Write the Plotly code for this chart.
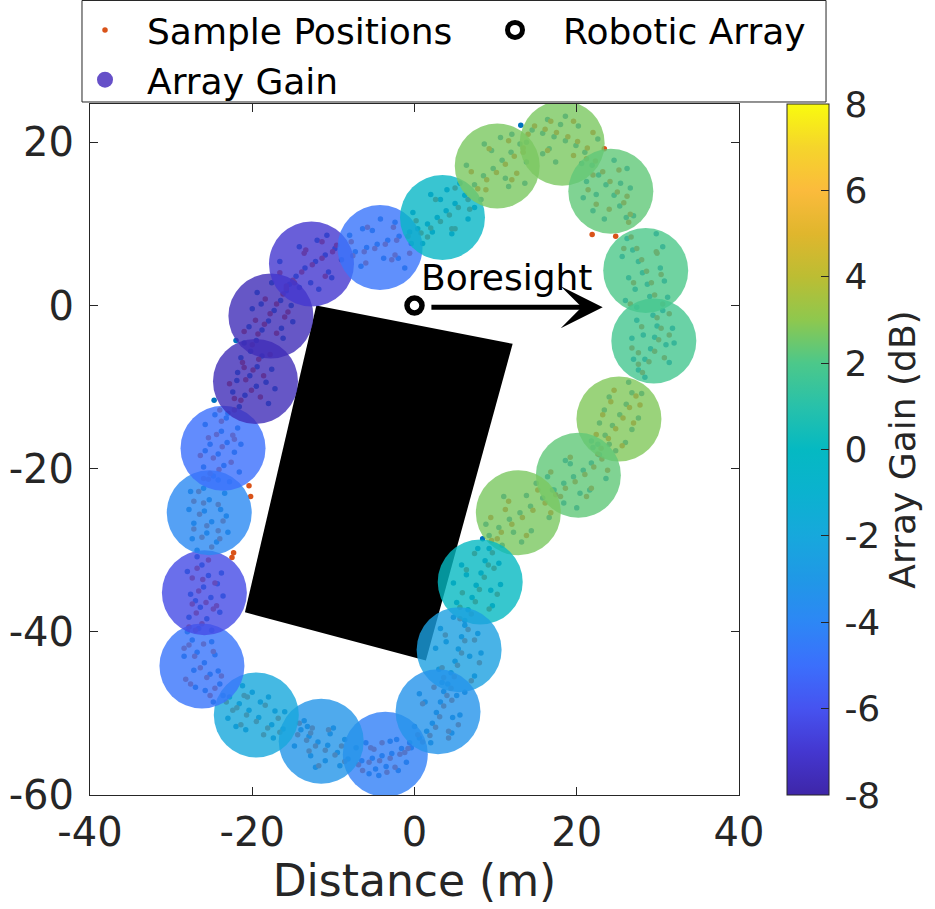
import plotly.graph_objects as go

# Circle centres (m) and the array gain measured at each stop (dB)
gain_x = [-3.6, -11.5, -19.5, -26.2, -25.9, -25.3, -23.6, -19.6, -17.7, -12.7, -4.25, 3.45,
          10.2, 18.2, 24.2, 28.5, 29.5, 25.2, 20.2, 12.8, 8.1, 5.5, 2.9]
gain_y = [-55.0, -53.4, -50.2, -44.2, -35.2, -25.4, -17.5, -9.3, -1.3, 5.1, 7.1, 10.8,
          17.1, 19.9, 14.0, 4.3, -4.35, -13.9, -20.8, -25.4, -33.9, -42.2, -49.8]
gain_db = [-4.3, -3.2, -2.0, -4.8, -6.3, -3.8, -5.0, -7.6, -7.6, -7.0, -4.8, -0.3,
           2.7, 2.7, 2.3, 2.0, 1.8, 2.8, 2.3, 2.7, 0.0, -2.5, -3.3]

# Sample positions, first pass (blue)
blue_x = [-6.5, -5.2, -4.0, -2.8, -1.6, -0.6, -4.4, -3.5,
          -6.0, -4.8, -2.2, -1.0, -5.6, -3.0, -7.2, -2.0,
          -14.0, -13.0, -11.9, -10.7, -9.5, -8.2, -12.2, -10.4,
          -13.6, -12.8, -10.0, -9.2, -14.8, -11.0, -8.6, -13.2,
          -22.8, -21.6, -20.4, -19.2, -17.6, -16.2, -19.0, -17.2,
          -21.2, -20.8, -18.0, -17.4, -23.0, -16.0, -20.0, -22.0,
          -27.4, -26.8, -25.9, -25.2, -24.0, -27.2, -24.6, -25.8,
          -28.4, -24.2, -27.0, -25.0, -28.0, -23.6, -26.6, -24.8,
          -26.2, -25.4, -26.0, -25.1, -26.4, -25.6, -24.3, -27.0,
          -28.0, -23.8, -27.8, -24.0, -27.6, -23.6, -26.8, -25.0,
          -26.0, -25.3, -25.9, -25.0, -25.6, -24.4, -27.2, -23.9,
          -27.6, -23.4, -27.4, -23.0, -27.8, -23.2, -26.8, -24.2,
          -23.2, -23.8, -23.1, -24.2, -23.5, -24.8, -22.2, -25.2,
          -25.8, -21.8, -26.0, -21.6, -25.8, -21.4, -24.6, -22.8,
          -18.8, -19.4, -20.3, -19.5, -20.9, -21.6, -18.3, -21.9,
          -21.4, -17.6, -22.4, -18.0, -21.8, -17.2, -20.2, -23.0,
          -15.8, -16.5, -17.3, -18.0, -18.8, -19.5, -16.4, -18.9,
          -19.4, -15.2, -20.4, -16.2, -20.0, -15.0, -17.6, -21.0,
          -9.8, -11.0, -12.2, -13.5, -14.6, -15.4, -12.8, -10.6,
          -10.8, -14.2, -10.2, -14.2, -12.0, -16.6, -9.0, -11.8,
          -0.6, -1.9, -3.3, -4.6, -5.9, -7.3, -3.8, -5.2,
          -2.4, -6.4, -2.0, -6.6, -0.4, -8.0, -4.2, -1.2,
          6.2, 5.0, 3.9, 2.8, 1.6, 0.4, 3.2, 2.2,
          2.0, 5.6, 4.6, 1.0, 6.6, -0.2, 4.0, 7.4,
          13.0, 11.9, 10.8, 9.7, 8.5, 7.4, 9.5, 11.2,
          8.6, 12.0, 11.6, 8.2, 13.8, 6.4, 10.6, 13.6,
          21.0, 19.9, 18.6, 17.2, 15.8, 14.5, 18.0, 16.6,
          16.4, 20.2, 15.8, 20.6, 22.6, 13.8, 18.6, 17.4,
          26.1, 25.3, 24.6, 23.6, 22.7, 21.9, 22.4, 25.4,
          26.6, 27.0, 22.0, 21.2, 24.6, 23.4, 26.2, 20.8,
          29.0, 28.7, 28.1, 27.6, 26.9, 26.2, 30.3, 27.2,
          30.8, 30.6, 26.4, 26.0, 31.2, 25.6, 29.8, 27.4,
          27.6, 28.4, 29.1, 29.6, 29.9, 29.4, 31.0, 28.2,
          31.8, 31.4, 27.4, 27.0, 32.0, 26.8, 30.6, 28.4,
          22.6, 23.5, 24.4, 25.3, 26.1, 26.8, 26.8, 23.4,
          27.6, 26.0, 22.8, 24.0, 28.0, 21.8, 26.4, 24.8,
          17.2, 18.4, 19.6, 20.8, 21.8, 22.8, 20.4, 19.2,
          21.6, 18.4, 18.6, 22.0, 23.6, 16.4, 20.0, 24.0,
          9.2, 10.4, 11.7, 13.0, 14.3, 15.8, 12.2, 13.8,
          14.4, 10.8, 11.0, 15.0, 16.6, 8.8, 13.2, 17.0,
          9.2, 8.7, 8.2, 7.6, 7.1, 6.6, 9.4, 6.4,
          10.4, 9.6, 5.8, 5.2, 10.6, 6.2, 7.8, 4.8,
          6.2, 5.8, 5.4, 5.0, 4.5, 4.1, 6.8, 3.9,
          7.8, 7.4, 3.2, 3.0, 8.2, 2.6, 6.2, 4.8,
          3.6, 3.2, 2.7, 2.2, 1.5, 0.6, 4.7, 1.3,
          5.2, 4.6, 0.6, 0.0, 5.6, -0.4, 3.4, 2.0,
          13.1, 8.4, -24.7, -22.0]
blue_y = [-55.8, -55.5, -55.2, -54.9, -54.3, -53.6, -57.6, -56.5,
          -53.6, -56.8, -53.2, -56.0, -57.4, -53.4, -54.2, -57.0,
          -52.0, -52.8, -53.5, -53.9, -54.8, -55.6, -56.6, -52.5,
          -50.9, -55.2, -51.8, -56.4, -54.0, -55.8, -53.2, -51.6,
          -48.0, -48.8, -49.6, -50.5, -51.4, -51.9, -48.6, -49.7,
          -46.6, -52.0, -48.0, -53.0, -50.6, -49.8, -47.4, -51.6,
          -41.0, -42.5, -43.8, -45.2, -46.4, -44.7, -42.8, -47.2,
          -43.0, -44.8, -46.8, -41.2, -40.0, -47.8, -39.6, -48.6,
          -31.8, -33.1, -34.5, -35.8, -37.0, -38.4, -34.1, -36.2,
          -32.6, -32.8, -38.2, -37.6, -35.4, -35.6, -30.8, -39.8,
          -22.4, -23.8, -25.2, -26.5, -27.9, -29.0, -26.7, -25.0,
          -22.8, -23.0, -28.6, -27.8, -25.0, -25.8, -30.0, -21.4,
          -13.8, -15.4, -16.8, -18.2, -19.6, -20.9, -18.0, -17.0,
          -14.6, -15.0, -19.8, -20.4, -17.8, -17.0, -13.4, -21.6,
          -6.2, -7.5, -8.6, -9.9, -11.0, -12.4, -9.4, -9.2,
          -6.4, -7.8, -10.6, -12.0, -8.2, -10.2, -5.6, -13.2,
          1.8, 0.6, -0.6, -1.9, -3.0, -4.3, -2.8, 0.2,
          1.6, 0.0, -2.6, -4.0, -0.4, -2.0, 2.8, -4.6,
          7.0, 6.2, 5.4, 4.6, 3.6, 2.6, 2.8, 4.1,
          8.6, 7.2, 3.4, 2.2, 8.0, 5.4, 5.6, 2.0,
          9.0, 8.5, 8.0, 7.5, 7.1, 6.6, 5.8, 9.2,
          10.2, 9.4, 5.8, 4.8, 7.6, 8.6, 10.6, 4.6,
          13.5, 12.5, 11.6, 10.8, 10.0, 9.4, 13.0, 9.0,
          13.6, 15.0, 8.8, 7.6, 10.6, 11.4, 14.2, 12.0,
          19.8, 18.8, 17.8, 16.8, 15.9, 14.8, 19.0, 15.6,
          19.8, 21.0, 14.6, 13.0, 17.6, 17.2, 20.6, 15.0,
          18.8, 19.6, 20.2, 20.7, 21.1, 21.5, 22.2, 19.2,
          22.8, 22.0, 18.6, 17.4, 20.4, 20.0, 23.2, 17.6,
          10.8, 12.2, 13.5, 14.8, 16.0, 17.2, 13.6, 15.0,
          14.4, 11.0, 11.6, 15.2, 17.8, 10.6, 16.8, 13.2,
          1.1, 2.6, 4.0, 5.4, 6.8, 8.2, 4.6, 2.0,
          3.0, 7.2, 3.4, 0.6, 1.0, 6.0, 8.8, -0.2,
          -7.9, -6.6, -5.3, -3.9, -2.5, -1.2, -4.8, -3.6,
          -2.8, -7.0, -1.8, -6.6, -4.6, -4.0, -0.6, -8.8,
          -17.0, -15.9, -14.7, -13.4, -12.1, -10.7, -15.2, -12.8,
          -13.8, -16.8, -14.4, -11.2, -10.8, -16.6, -9.4, -17.8,
          -22.6, -21.8, -21.0, -20.2, -19.3, -18.3, -23.0, -19.4,
          -22.6, -24.2, -19.0, -17.4, -21.2, -21.0, -24.8, -17.0,
          -28.2, -27.2, -26.2, -25.4, -24.6, -23.6, -27.8, -23.3,
          -27.6, -29.4, -23.4, -21.8, -26.0, -26.8, -29.0, -22.6,
          -29.8, -31.3, -32.8, -34.3, -35.8, -37.3, -34.9, -33.0,
          -31.6, -36.8, -31.8, -36.4, -34.2, -38.6, -29.8, -34.0,
          -39.2, -40.6, -42.1, -43.6, -45.0, -46.4, -43.0, -41.2,
          -40.2, -45.4, -39.6, -44.6, -42.6, -42.0, -47.4, -38.2,
          -47.3, -48.6, -49.9, -51.2, -52.2, -53.0, -50.5, -48.6,
          -47.8, -52.4, -47.6, -51.6, -50.2, -54.2, -46.2, -53.6,
          22.1, -28.6, -11.6, -4.3]

# Sample positions, second pass (orange)
orange_x = [-6.9, -5.6, -4.3, -3.0, -1.8, -0.8, -5.0,
            -5.4, -2.4, -6.4, -1.2, -4.0, -3.4,
            -14.4, -13.3, -12.2, -11.0, -9.8, -8.6, -12.6,
            -13.0, -10.6, -9.0, -14.2, -11.8, -12.8,
            -23.2, -21.9, -20.7, -19.5, -18.1, -16.6, -21.0,
            -22.4, -18.6, -20.6, -16.8, -21.4, -18.4,
            -27.8, -27.1, -26.4, -25.6, -24.6, -26.0, -28.2,
            -27.6, -24.8, -28.4, -25.2, -27.0, -23.8,
            -26.8, -26.1, -26.6, -25.7, -26.9, -26.2, -24.8,
            -27.4, -24.6, -27.4, -24.4, -25.4, -27.8,
            -26.6, -26.0, -26.5, -25.6, -26.2, -25.0, -24.2,
            -27.2, -24.2, -27.2, -24.0, -26.0, -23.6,
            -23.8, -24.4, -23.7, -24.8, -24.1, -25.4, -22.4,
            -25.4, -22.2, -25.2, -22.6, -24.0, -26.4,
            -19.2, -19.9, -20.8, -20.1, -21.4, -22.2, -21.2,
            -21.0, -18.6, -22.2, -19.0, -17.8, -22.8,
            -16.2, -17.0, -17.8, -18.5, -19.3, -20.0, -15.6,
            -18.4, -16.0, -19.6, -17.0, -15.8, -21.0,
            -10.1, -11.4, -12.6, -13.9, -15.0, -15.8, -13.6,
            -11.4, -13.4, -11.0, -14.8, -9.6, -16.6,
            -0.8, -2.2, -3.6, -4.9, -6.2, -7.6, -2.4,
            -2.6, -5.8, -2.8, -6.0, -0.6, -7.8,
            6.6, 5.4, 4.3, 3.2, 2.0, 0.8, 4.6,
            2.6, 5.0, 5.0, 1.6, 6.8, 0.2,
            13.4, 12.3, 11.2, 10.1, 8.9, 7.8, 12.6,
            9.2, 11.6, 12.0, 8.8, 13.4, 7.0,
            21.3, 20.1, 18.9, 17.5, 16.1, 14.8, 19.6,
            16.8, 19.6, 16.4, 21.2, 22.0, 14.0,
            26.6, 25.8, 25.0, 24.1, 23.2, 22.3, 24.0,
            26.2, 26.4, 22.4, 22.0, 25.2, 21.4,
            29.6, 29.2, 28.6, 28.0, 27.4, 26.7, 29.9,
            30.4, 29.8, 27.0, 26.6, 30.6, 25.8,
            28.1, 28.9, 29.6, 30.1, 30.4, 29.9, 27.6,
            31.4, 30.8, 28.0, 27.6, 31.4, 26.8,
            23.0, 23.9, 24.8, 25.7, 26.5, 27.3, 24.2,
            27.0, 25.6, 23.2, 24.6, 27.8, 22.4,
            17.4, 18.6, 19.8, 21.0, 22.1, 23.1, 21.8,
            21.2, 18.0, 19.2, 22.6, 23.8, 16.8,
            9.5, 10.7, 12.0, 13.3, 14.6, 16.1, 11.2,
            13.8, 10.2, 11.6, 15.2, 16.8, 9.4,
            9.6, 9.1, 8.6, 8.0, 7.5, 7.0, 5.9,
            9.8, 9.2, 6.4, 5.6, 10.2, 7.4,
            6.6, 6.2, 5.8, 5.3, 4.9, 4.5, 3.4,
            7.4, 7.0, 3.8, 3.6, 8.0, 5.6,
            4.0, 3.6, 3.1, 2.6, 1.9, 1.0, 4.2,
            4.6, 4.2, 1.0, 0.4, 5.4, 2.4,
            21.9, 24.8, 23.4, -20.4, -20.2, -22.3, -22.5]
orange_y = [-56.3, -56.0, -55.8, -55.5, -55.0, -54.3, -54.4,
            -54.2, -56.6, -57.0, -54.8, -53.6, -57.2,
            -52.6, -53.3, -54.0, -54.5, -55.1, -55.9, -51.8,
            -54.6, -52.0, -54.0, -51.2, -56.4, -52.4,
            -48.6, -49.3, -50.2, -51.0, -51.8, -52.3, -47.8,
            -49.6, -52.6, -48.0, -50.6, -51.4, -49.0,
            -41.6, -43.0, -44.4, -45.6, -46.9, -41.5, -45.8,
            -46.4, -42.4, -42.0, -47.8, -39.8, -45.4,
            -32.2, -33.6, -35.0, -36.4, -37.7, -39.0, -37.2,
            -33.4, -34.0, -36.6, -36.8, -31.2, -39.4,
            -22.8, -24.2, -25.6, -27.0, -28.4, -29.6, -27.6,
            -24.0, -24.4, -27.4, -28.6, -21.2, -26.4,
            -14.2, -15.8, -17.3, -18.7, -20.1, -21.3, -15.9,
            -16.2, -16.4, -20.6, -19.2, -12.8, -18.4,
            -6.6, -7.9, -9.1, -10.4, -11.6, -12.8, -7.0,
            -7.6, -8.6, -11.4, -11.2, -6.0, -9.6,
            1.4, 0.2, -1.0, -2.3, -3.5, -4.8, -0.8,
            0.8, -1.4, -1.8, -3.4, 2.4, -3.2,
            6.6, 5.8, 5.0, 4.1, 3.1, 2.1, 6.4,
            7.8, 6.8, 3.6, 2.8, 7.4, 4.0,
            8.5, 8.0, 7.5, 7.0, 6.6, 6.1, 6.2,
            9.6, 9.6, 5.6, 5.2, 6.4, 7.8,
            13.0, 12.0, 11.1, 10.3, 9.5, 8.9, 9.4,
            13.0, 14.4, 9.4, 8.4, 11.8, 10.4,
            19.3, 18.3, 17.3, 16.3, 15.4, 14.3, 16.2,
            19.2, 20.2, 15.4, 14.2, 18.8, 16.4,
            19.3, 20.1, 20.7, 21.2, 21.6, 22.0, 18.4,
            22.6, 22.6, 19.0, 18.0, 21.2, 21.0,
            11.2, 12.6, 13.9, 15.2, 16.4, 17.7, 11.8,
            13.4, 10.2, 12.4, 16.0, 16.6, 14.2,
            1.3, 2.8, 4.2, 5.6, 7.0, 8.4, 6.4,
            3.8, 6.6, 2.8, 0.2, 0.2, 7.0,
            -8.2, -6.9, -5.6, -4.2, -2.8, -1.5, -5.8,
            -3.6, -6.4, -2.6, -7.2, -1.0, -5.2,
            -17.5, -16.3, -15.1, -13.8, -12.5, -11.1, -11.8,
            -14.4, -17.2, -13.4, -10.4, -12.2, -15.8,
            -23.2, -22.4, -21.6, -20.7, -19.8, -18.8, -22.4,
            -23.4, -23.4, -18.6, -18.2, -20.2, -20.4,
            -28.8, -27.8, -26.8, -26.0, -25.1, -24.2, -25.0,
            -28.2, -28.6, -24.0, -22.6, -25.4, -26.0,
            -30.3, -31.8, -33.3, -34.8, -36.3, -37.8, -35.2,
            -32.2, -37.2, -32.4, -37.0, -35.4, -30.4,
            -39.7, -41.1, -42.6, -44.1, -45.5, -46.9, -44.4,
            -41.0, -46.0, -40.4, -45.6, -43.8, -38.4,
            -47.8, -49.1, -50.4, -51.7, -52.7, -53.5, -52.2,
            -48.4, -53.0, -48.8, -52.6, -51.4, -46.8,
            8.7, 8.5, 19.2, -22.1, -23.4, -30.3, -30.9]

# Building footprint corners (m)
building_x = [-12.1, 12.1, 1.4, -20.9]
building_y = [0.0, -4.7, -43.5, -37.6]

# Robotic array location and boresight direction
array_x = [0.0]
array_y = [0.0]
boresight_start = (1.9, -0.2)
boresight_end = (23.2, -0.2)

x_ticks = [-40, -20, 0, 20, 40]
y_ticks = [-60, -40, -20, 0, 20]
cbar_ticks = [-8, -6, -4, -2, 0, 2, 4, 6, 8]

parula = [
    [0.0, "#3e26a8"], [0.0625, "#4437d0"], [0.125, "#4653f0"], [0.1875, "#3b6ffc"],
    [0.25, "#2d87f5"], [0.3125, "#2098e6"], [0.375, "#17a8dc"], [0.4375, "#0bb2cf"],
    [0.5, "#05b9c2"], [0.5625, "#28c1aa"], [0.625, "#4cc88a"], [0.6875, "#8ec84e"],
    [0.75, "#bcbd33"], [0.8125, "#e0b62d"], [0.875, "#fbbb3c"], [0.9375, "#f5d52b"],
    [1.0, "#f9fb0e"],
]

FONT = "DejaVu Sans"
INK = "#262626"

fig = go.Figure()

fig.add_trace(go.Scatter(
    x=building_x, y=building_y, fill="toself", fillcolor="black", mode="lines",
    line=dict(color="black", width=0), showlegend=False, hoverinfo="skip"))

fig.add_trace(go.Scatter(
    x=blue_x, y=blue_y, mode="markers", showlegend=False,
    marker=dict(color="#0072BD", size=5.5, line=dict(width=0))))

fig.add_trace(go.Scatter(
    x=orange_x, y=orange_y, mode="markers", name="Sample Positions",
    legend="legend", legendrank=1,
    marker=dict(color="#D95319", size=5.5, line=dict(width=0))))

fig.add_trace(go.Scatter(
    x=gain_x, y=gain_y, mode="markers", name="Array Gain", showlegend=False,
    marker=dict(color=gain_db, colorscale=parula, cmin=-8, cmax=8, size=85, opacity=0.8,
                line=dict(width=0), showscale=True,
                colorbar=dict(x=1.074, xanchor="left", y=0.5, yanchor="middle", len=1,
                              lenmode="fraction", thickness=42, xpad=0, ypad=0,
                              outlinewidth=1, outlinecolor=INK, ticks="inside", ticklen=8,
                              tickcolor=INK, tickvals=cbar_ticks,
                              ticktext=["\u2009" + str(v) for v in cbar_ticks],
                              tickfont=dict(family=FONT, size=36, color=INK),
                              title=dict(text="Array Gain (dB)", side="right",
                                         font=dict(family=FONT, size=36, color=INK))))))

# legend entry for the gain circles
fig.add_trace(go.Scatter(
    x=[None], y=[None], mode="markers", name="Array Gain", legend="legend", legendrank=2,
    marker=dict(color="#6650c8", size=16)))

fig.add_trace(go.Scatter(
    x=array_x, y=array_y, mode="markers", name="Robotic Array", legend="legend2",
    marker=dict(symbol="circle-open", color="black", size=15, line=dict(width=5.5, color="black"))))

fig.add_annotation(
    x=boresight_end[0], y=boresight_end[1], ax=boresight_start[0], ay=boresight_start[1],
    xref="x", yref="y", axref="x", ayref="y", showarrow=True, arrowhead=3,
    arrowwidth=5, arrowsize=1.4, arrowcolor="black", text="")
fig.add_annotation(
    x=11.4, y=3.4, xref="x", yref="y", text="Boresight", showarrow=False,
    font=dict(family=FONT, size=36, color="black"))

axis_common = dict(showgrid=False, zeroline=False, showline=True, linecolor=INK, linewidth=1,
                   mirror="ticks", ticks="inside", ticklen=8, tickcolor=INK,
                   tickfont=dict(family=FONT, size=40, color=INK))

fig.update_xaxes(range=[-40, 40], tickvals=x_ticks, ticktext=[str(v) for v in x_ticks],
                 ticklabelstandoff=2,
                 title=dict(text="Distance (m)", standoff=0,
                            font=dict(family=FONT, size=44, color=INK)),
                 **axis_common)
fig.update_yaxes(range=[-60, 24.7], tickvals=y_ticks, ticktext=[str(v) for v in y_ticks],
                 ticklabelstandoff=7, **axis_common)

# frame enclosing both legend groups
fig.add_shape(type="rect", xref="paper", yref="paper",
              x0=-0.01233, x1=1.1341, y0=1.0029, y1=1.1498,
              line=dict(color=INK, width=1), fillcolor="white", layer="below")

legend_common = dict(orientation="v", yanchor="top", y=1.1505, xanchor="left",
                     bgcolor="rgba(0,0,0,0)", borderwidth=0, itemsizing="trace",
                     font=dict(family=FONT, size=36, color="black"))

fig.update_layout(
    width=935, height=909,
    margin=dict(l=90, r=196, t=104, b=114, autoexpand=False),
    plot_bgcolor="white", paper_bgcolor="white",
    font=dict(family=FONT, size=36, color=INK),
    legend=dict(x=-0.0416, itemwidth=74, **legend_common),
    legend2=dict(x=0.5809, itemwidth=86, **legend_common),
)

fig.write_html("out.html")
